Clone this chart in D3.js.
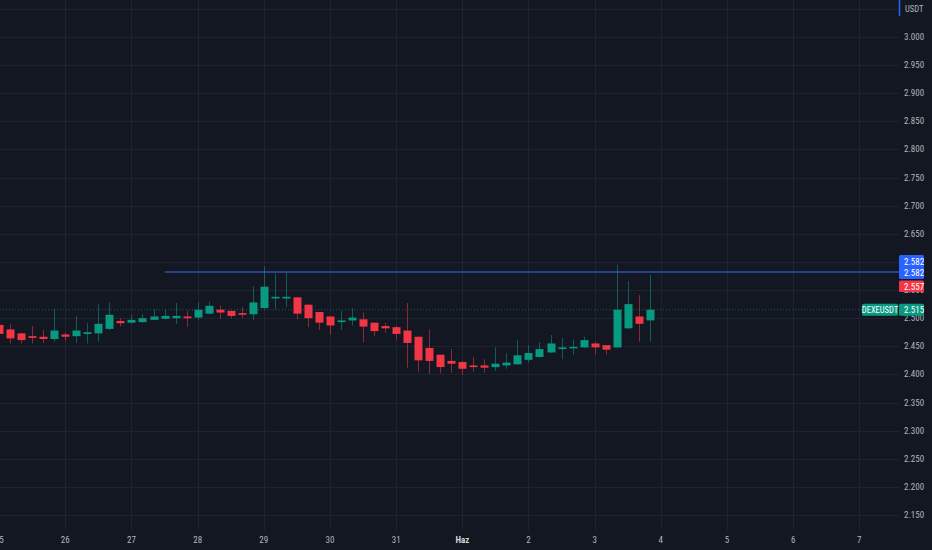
<!DOCTYPE html>
<html>
<head>
<meta charset="utf-8">
<script src="https://cdn.jsdelivr.net/npm/d3@7"></script>
<style>
  html, body { margin: 0; padding: 0; background: #131722; overflow: hidden; }
  #chart { width: 932px; height: 550px; }
  text { font-family: "Liberation Sans Narrow", "Roboto Condensed", Roboto, sans-serif; }
</style>
</head>
<body>
<div id="chart"></div>
<script>
// 4h candles, DEXEUSDT, from 25 May 00:00
const startTime = new Date(Date.UTC(2023, 4, 25, 0, 0));
const opens = [2.488, 2.480, 2.473, 2.468, 2.467, 2.463, 2.471, 2.468, 2.472, 2.473,
  2.481, 2.495, 2.492, 2.493, 2.497, 2.499, 2.500, 2.503, 2.501, 2.508,
  2.515, 2.513, 2.509, 2.507, 2.518, 2.535, 2.535, 2.537, 2.524, 2.511,
  2.503, 2.493, 2.496, 2.498, 2.492, 2.486, 2.484, 2.478, 2.467, 2.447,
  2.435, 2.424, 2.422, 2.416, 2.416, 2.413, 2.416, 2.418, 2.426, 2.431,
  2.439, 2.445, 2.447, 2.448, 2.455, 2.452, 2.448, 2.482, 2.503, 2.496];
const highs = [2.493, 2.489, 2.474, 2.486, 2.479, 2.516, 2.474, 2.504, 2.491, 2.525,
  2.528, 2.500, 2.506, 2.507, 2.516, 2.516, 2.527, 2.513, 2.528, 2.529,
  2.522, 2.513, 2.520, 2.557, 2.592, 2.579, 2.581, 2.537, 2.524, 2.511,
  2.503, 2.513, 2.518, 2.510, 2.492, 2.491, 2.486, 2.527, 2.467, 2.480,
  2.435, 2.445, 2.424, 2.431, 2.427, 2.448, 2.438, 2.461, 2.452, 2.457,
  2.470, 2.465, 2.462, 2.467, 2.458, 2.452, 2.595, 2.566, 2.541, 2.577];
const lows = [2.465, 2.455, 2.455, 2.455, 2.456, 2.458, 2.460, 2.456, 2.455, 2.458,
  2.479, 2.485, 2.490, 2.492, 2.497, 2.498, 2.490, 2.485, 2.497, 2.507,
  2.499, 2.500, 2.500, 2.496, 2.516, 2.516, 2.520, 2.498, 2.484, 2.479,
  2.471, 2.479, 2.487, 2.457, 2.468, 2.474, 2.462, 2.412, 2.405, 2.401,
  2.402, 2.403, 2.399, 2.405, 2.403, 2.406, 2.410, 2.417, 2.421, 2.430,
  2.438, 2.427, 2.435, 2.447, 2.436, 2.435, 2.447, 2.481, 2.458, 2.458];
const closes = [2.472, 2.464, 2.461, 2.465, 2.463, 2.478, 2.467, 2.478, 2.475, 2.490,
  2.506, 2.491, 2.497, 2.500, 2.503, 2.504, 2.504, 2.500, 2.515, 2.522,
  2.510, 2.504, 2.506, 2.528, 2.556, 2.538, 2.538, 2.508, 2.500, 2.492,
  2.487, 2.496, 2.501, 2.485, 2.477, 2.482, 2.472, 2.456, 2.425, 2.424,
  2.413, 2.419, 2.410, 2.413, 2.412, 2.419, 2.421, 2.434, 2.438, 2.445,
  2.455, 2.448, 2.449, 2.461, 2.448, 2.444, 2.515, 2.525, 2.490, 2.515];

const dayTicks = ["2023-05-25", "2023-05-26", "2023-05-27", "2023-05-28", "2023-05-29",
  "2023-05-30", "2023-05-31", "2023-06-01", "2023-06-02", "2023-06-03", "2023-06-04",
  "2023-06-05", "2023-06-06", "2023-06-07"];
const dayLabels = ["25", "26", "27", "28", "29", "30", "31", "Haz", "2", "3", "4", "5", "6", "7"];
const priceTicks = [2.15, 2.20, 2.25, 2.30, 2.35, 2.40, 2.45, 2.50, 2.55, 2.60,
  2.65, 2.70, 2.75, 2.80, 2.85, 2.90, 2.95, 3.00, 3.05];

const symbol = "DEXEUSDT";
const currency = "USDT";
const lastPrice = 2.515;
const rayPrice = 2.582;
const rayStart = 15; // candle index where the horizontal ray starts
const redMarkPrice = 2.557;

const COLORS = {
  bg: "#131722",
  grid: "#1f2330",
  text: "#b2b5be",
  up: "#089981",
  down: "#f23645",
  blue: "#2962ff",
  ray: "#2f4fb5",
};

const width = 932;
const height = 550;
const plotRight = 899;
const plotBottom = 530;

const candles = opens.map((o, i) => ({
  t: new Date(startTime.getTime() + i * 4 * 3600 * 1000),
  o: o, h: highs[i], l: lows[i], c: closes[i],
}));

const x = d3.scaleUtc()
  .domain([new Date("2023-05-26T00:00Z"), new Date("2023-06-07T00:00Z")])
  .range([65.3, 859.3]);

const y = d3.scaleLinear()
  .domain([2.15, 3.0])
  .range([515, 37]);

const svg = d3.select("#chart")
  .append("svg")
  .attr("width", width)
  .attr("height", height);

svg.append("rect")
  .attr("width", width)
  .attr("height", height)
  .attr("fill", COLORS.bg);

// grid
const grid = svg.append("g");
grid.selectAll("line.v")
  .data(dayTicks)
  .enter()
  .append("line")
  .attr("class", "v")
  .attr("x1", (d) => Math.round(x(new Date(d + "T00:00Z"))) + 0.5)
  .attr("x2", (d) => Math.round(x(new Date(d + "T00:00Z"))) + 0.5)
  .attr("y1", 0)
  .attr("y2", plotBottom)
  .attr("stroke", COLORS.grid);

grid.selectAll("line.h")
  .data(priceTicks)
  .enter()
  .append("line")
  .attr("class", "h")
  .attr("x1", 0)
  .attr("x2", plotRight)
  .attr("y1", (d) => Math.round(y(d)) + 0.5)
  .attr("y2", (d) => Math.round(y(d)) + 0.5)
  .attr("stroke", COLORS.grid);

// plot area
svg.append("clipPath")
  .attr("id", "plot-clip")
  .append("rect")
  .attr("x", 0)
  .attr("y", 0)
  .attr("width", plotRight)
  .attr("height", plotBottom);

const plot = svg.append("g").attr("clip-path", "url(#plot-clip)");

// last price dotted line
plot.append("line")
  .attr("x1", 0)
  .attr("x2", plotRight)
  .attr("y1", y(lastPrice))
  .attr("y2", y(lastPrice))
  .attr("stroke", COLORS.up)
  .attr("stroke-opacity", 0.6)
  .attr("stroke-dasharray", "1,2");

// horizontal ray
plot.append("line")
  .attr("x1", x(candles[rayStart].t))
  .attr("x2", plotRight)
  .attr("y1", y(rayPrice))
  .attr("y2", y(rayPrice))
  .attr("stroke", COLORS.ray)
  .attr("stroke-width", 1.5);

const bodyW = 8;
const candle = plot.selectAll("g.candle")
  .data(candles)
  .enter()
  .append("g")
  .attr("class", "candle");

candle.append("line")
  .attr("x1", (d) => Math.round(x(d.t)) + 0.5)
  .attr("x2", (d) => Math.round(x(d.t)) + 0.5)
  .attr("y1", (d) => y(d.h))
  .attr("y2", (d) => y(d.l))
  .attr("stroke", (d) => (d.c >= d.o ? COLORS.up : COLORS.down))
  .attr("stroke-opacity", 0.55);

candle.append("rect")
  .attr("x", (d) => Math.round(x(d.t)) + 0.5 - bodyW / 2)
  .attr("width", bodyW)
  .attr("y", (d) => y(Math.max(d.o, d.c)))
  .attr("height", (d) => Math.max(1.5, Math.abs(y(d.o) - y(d.c))))
  .attr("fill", (d) => (d.c >= d.o ? COLORS.up : COLORS.down));

// time axis labels
svg.selectAll("text.day")
  .data(dayTicks)
  .enter()
  .append("text")
  .attr("class", "day")
  .attr("x", (d) => x(new Date(d + "T00:00Z")))
  .attr("y", 543)
  .attr("text-anchor", "middle")
  .attr("fill", (d, i) => (dayLabels[i] === "Haz" ? "#d1d4dc" : COLORS.text))
  .style("font-size", "9px")
  .style("font-weight", (d, i) => (dayLabels[i] === "Haz" ? "bold" : "normal"))
  .text((d, i) => dayLabels[i]);

// price axis labels
svg.selectAll("text.price")
  .data(priceTicks.filter((p) => p <= 3.0))
  .enter()
  .append("text")
  .attr("class", "price")
  .attr("x", 904)
  .attr("y", (d) => y(d) + 3)
  .attr("fill", COLORS.text)
  .style("font-size", "9px")
  .text((d) => d3.format(".3f")(d));

// currency label
svg.append("line")
  .attr("x1", 899.5)
  .attr("x2", 899.5)
  .attr("y1", 0)
  .attr("y2", 16)
  .attr("stroke", COLORS.blue)
  .attr("stroke-width", 1.5);

svg.append("text")
  .attr("x", 905)
  .attr("y", 12)
  .attr("fill", COLORS.text)
  .style("font-size", "8.5px")
  .text(currency);

// price tags
function tag(yTop, h, fill, label) {
  svg.append("rect")
    .attr("x", 899)
    .attr("y", yTop)
    .attr("width", 25)
    .attr("height", h)
    .attr("rx", 1.5)
    .attr("fill", fill);
}

const rayY = y(rayPrice);
tag(rayY - 17, 24, COLORS.blue);
svg.append("text")
  .attr("x", 904).attr("y", rayY - 7.5)
  .attr("fill", "#fff").style("font-size", "9px")
  .text(d3.format(".3f")(rayPrice));
svg.append("text")
  .attr("x", 904).attr("y", rayY + 3.5)
  .attr("fill", "#fff").style("font-size", "9px")
  .text(d3.format(".3f")(rayPrice));

const redY = y(redMarkPrice);
tag(redY - 5.5, 11.5, COLORS.down);
svg.append("text")
  .attr("x", 904).attr("y", redY + 3.5)
  .attr("fill", "#fff").style("font-size", "9px")
  .text(d3.format(".3f")(redMarkPrice));

const lastY = y(lastPrice);
svg.append("rect")
  .attr("x", 862)
  .attr("y", lastY - 6)
  .attr("width", 36)
  .attr("height", 12)
  .attr("rx", 1.5)
  .attr("fill", COLORS.up);
svg.append("text")
  .attr("x", 880).attr("y", lastY + 3.3)
  .attr("text-anchor", "middle")
  .attr("fill", "#fff").style("font-size", "8.5px")
  .text(symbol);
tag(lastY - 6, 12, COLORS.up);
svg.append("text")
  .attr("x", 904).attr("y", lastY + 3.3)
  .attr("fill", "#fff").style("font-size", "9px")
  .text(d3.format(".3f")(lastPrice));
</script>
</body>
</html>
